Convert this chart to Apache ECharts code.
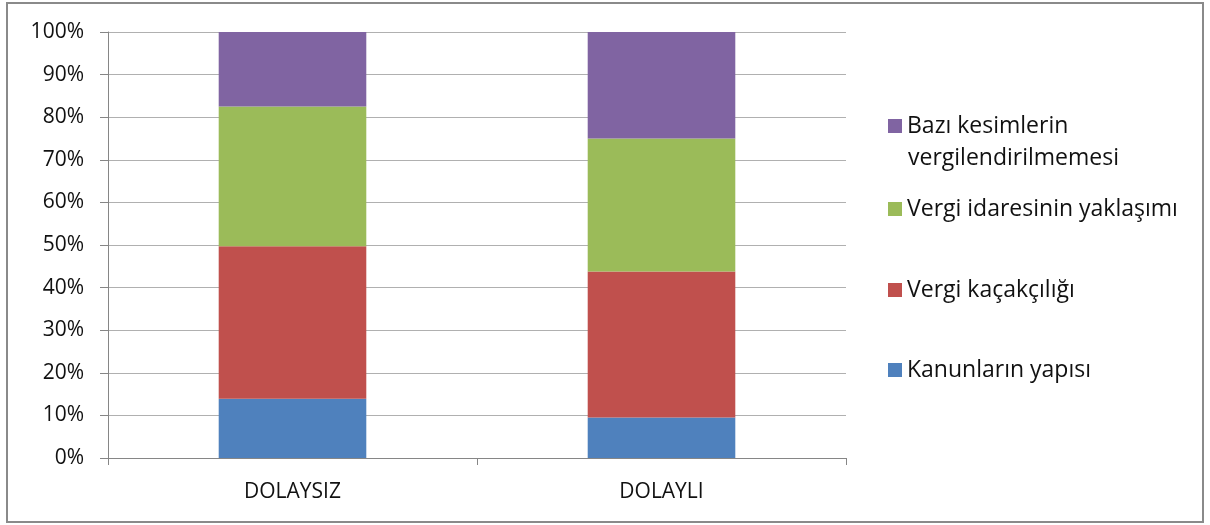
<!DOCTYPE html>
<html><head><meta charset="utf-8">
<script src="https://cdn.jsdelivr.net/npm/echarts@6/dist/echarts.min.js"></script>
<style>html,body{margin:0;padding:0;background:#fff}#c{width:1210px;height:525px}</style>
</head><body><div id="c"></div>
<script>
const categories = ['DOLAYSIZ', 'DOLAYLI'];
const seriesNames = ['Kanunların yapısı', 'Vergi kaçakçılığı', 'Vergi idaresinin yaklaşımı', 'Bazı kesimlerin vergilendirilmemesi'];
const kanunlar = [13.9, 9.5];
const kacakcilik = [35.8, 34.3];
const idare = [32.8, 31.2];
const kesimler = [17.5, 25.0];
const colors = ['#4F81BD', '#C0504D', '#9BBB59', '#8064A2'];
const seriesData = [kanunlar, kacakcilik, idare, kesimler];

const FONT = 'Open Sans';
const LFS = 23;
const chart = echarts.init(document.getElementById('c'), null, {renderer: 'canvas'});

function legendFor(name, top, extra) {
  return Object.assign({
    data: [{name: name, icon: 'rect'}],
    left: 888, top: top, orient: 'vertical',
    itemWidth: 14, itemHeight: 14, itemGap: 0, padding: 0,
    selectedMode: false,
    textStyle: {fontFamily: FONT, fontSize: LFS, color: '#111', lineHeight: 32}
  }, extra || {});
}

chart.setOption({
  animation: false,
  color: colors,
  graphic: [{
    type: 'rect', shape: {x: 7, y: 3, width: 1196, height: 519},
    style: {fill: 'none', stroke: '#8a8a8a', lineWidth: 2}, silent: true
  }, {
    type: 'text', left: 908, top: 147, silent: true,
    style: {text: 'vergilendirilmemesi', font: LFS + 'px "' + FONT + '"', fill: '#111'}
  }],
  grid: {left: 108, top: 32, width: 738, height: 426},
  legend: [
    legendFor(seriesNames[3], 110, {
      formatter: () => 'Bazı kesimlerin'
    }),
    legendFor(seriesNames[2], 193),
    legendFor(seriesNames[1], 274),
    legendFor(seriesNames[0], 354)
  ],
  xAxis: {
    type: 'category', data: categories,
    axisLine: {lineStyle: {color: '#868686', width: 1}},
    axisTick: {show: true, length: 7, lineStyle: {color: '#868686'}},
    axisLabel: {fontFamily: FONT, fontSize: 21, color: '#111', margin: 24}
  },
  yAxis: {
    type: 'value', min: 0, max: 100, interval: 10,
    axisLine: {show: true, lineStyle: {color: '#868686'}},
    axisTick: {show: true, length: 8, lineStyle: {color: '#868686'}},
    axisLabel: {fontFamily: FONT, fontSize: 21, color: '#111', margin: 24, formatter: '{value}%'},
    splitLine: {lineStyle: {color: '#b0b0b0', width: 1}}
  },
  series: seriesNames.map((n, i) => ({
    name: n, type: 'bar', stack: 'total', data: seriesData[i],
    barWidth: '40%',
    itemStyle: {color: colors[i]}
  }))
});
</script></body></html>
